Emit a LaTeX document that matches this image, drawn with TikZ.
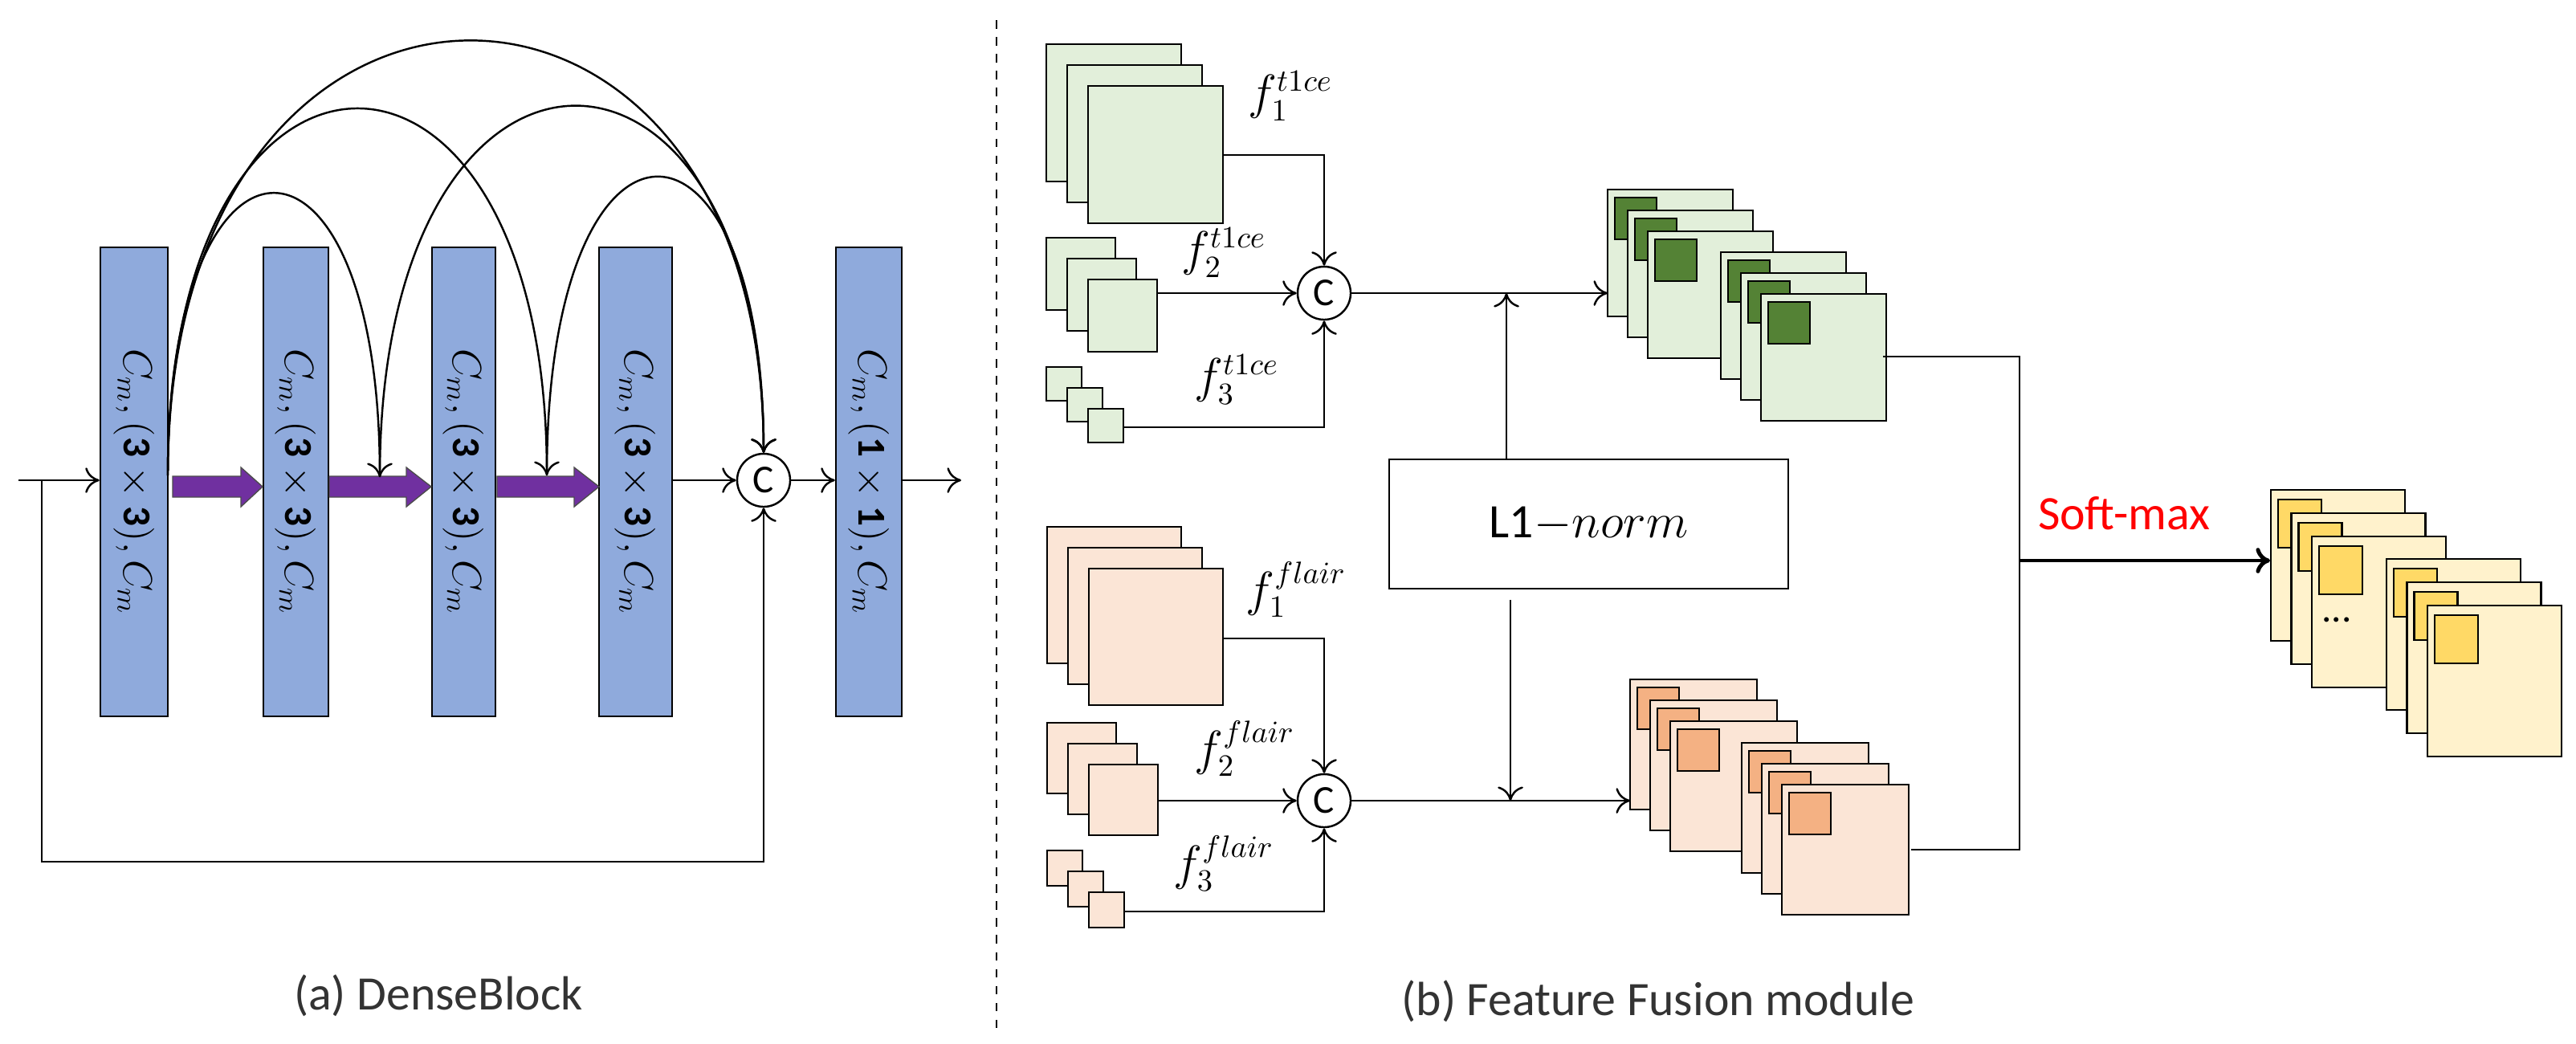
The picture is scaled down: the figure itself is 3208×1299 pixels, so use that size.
\documentclass[tikz,border=0pt]{standalone}
\usepackage{fontspec}
\setmainfont{Carlito}
\usepackage{amsmath}
\usetikzlibrary{arrows.meta}
\definecolor{barblue}{HTML}{8FAADC}
\definecolor{purp}{HTML}{7030A0}
\definecolor{gl}{HTML}{E2EFDA}
\definecolor{gd}{HTML}{548235}
\definecolor{ol}{HTML}{FBE5D6}
\definecolor{od}{HTML}{F4B183}
\definecolor{yl}{HTML}{FFF2CC}
\definecolor{yd}{HTML}{FFD966}
\begin{document}
\begin{tikzpicture}[x=0.01cm,y=-0.01cm,line width=0.7pt,
  >={To[length=5pt,width=9pt]},
  bar/.style={draw,fill=barblue,minimum width=#1*0.01cm,minimum height=5.84cm,inner sep=0},
  cat/.style={draw,circle,fill=white,minimum size=0.66cm,inner sep=0,font=\fontsize{14}{14}\selectfont},
  btxt/.style={rotate=-90,font=\fontsize{14}{14}\selectfont},
  pa/.style={fill=purp,draw=black!70,line width=0.4pt},
  fl/.style={font=\fontsize{16}{16}\selectfont},
  captxt/.style={font=\fontsize{17}{17}\selectfont,text=black!80}]
\useasboundingbox (0,0) rectangle (3208,1299);
% ---------------- (a) DenseBlock
\node[bar=84] (b1) at (167,600) {};
\node[bar=81] (b2) at (368.5,600) {};
\node[bar=79] (b3) at (577.5,600) {};
\node[bar=91] (b4) at (791.5,600) {};
\node[bar=82] (b5) at (1082,600) {};
\foreach \b in {b1,b2,b3,b4}{\node[btxt] at (\b) {$C_m,(\mathbf{3\times3}),C_m$};}
\node[btxt] at (b5) {$C_m,(\mathbf{1\times1}),C_m$};
\node[cat] (ca) at (951,598) {C};
% purple arrows
\draw[pa] (215,593)--(300,593)--(300,582)--(327,606)--(300,631)--(300,619)--(215,619)--cycle;
\draw[pa] (410,593)--(506,593)--(506,582)--(537,606)--(506,631)--(506,619)--(410,619)--cycle;
\draw[pa] (619,593)--(715,593)--(715,582)--(746,606)--(715,631)--(715,619)--(619,619)--cycle;
\coordinate (in) at (23,598);
\coordinate (lp) at (52,598);
\coordinate (lp2) at (52,1073);
\coordinate (lp3) at (951,1073);
\coordinate (p1) at (209,592);
\coordinate (q2) at (473,594);
\coordinate (q3) at (681,592);
\coordinate (out) at (1197,598);
\draw[->] (in) -- (b1.west |- in);
\draw[->] (lp) -- (lp2) -- (lp3) -- (ca.south);
\draw[->] (b4.east |- ca) -- (ca.west);
\draw[->] (ca.east) -- (b5.west |- ca);
\draw[->] (b5.east |- ca) -- (out);
\draw[->] (p1) .. controls (209,123) and (473,123) .. (q2);
\draw[->] (p1) .. controls (209,-17) and (681,-17) .. (q3);
\draw[->] (p1) .. controls (209,-125) and (951,-125) .. (ca.north);
\draw[->] (q2) .. controls (473,-17) and (951,-17) .. (ca.north);
\draw[->] (q3) .. controls (681,101) and (951,101) .. (ca.north);
\node[captxt] (capa) at (546,1240) {(a) DenseBlock};
% divider
\draw[dashed,line width=0.6pt] (1241,25) -- (1241,1280);
% ---------------- (b) feature fusion
\newcommand\mystack[6]{% x y w h fill name
  \foreach \k in {0,1,2}{\draw[fill=#5] ({#1+26*\k},{#2+26*\k}) rectangle ++(#3,#4);}
  \coordinate (#6) at ({#1+52+#3},{#2+52});}
% green inputs
\mystack{1303}{55}{168}{171}{gl}{g1}
\mystack{1303}{296}{86}{90}{gl}{g2}
\mystack{1303}{457}{44}{42}{gl}{g3}
\node[cat] (cg) at (1649,365) {C};
\draw[->] (1523,193) -- (1649,193) -- (cg.north);
\draw[->] (1441,365) -- (cg.west);
\draw[->] (1399,532) -- (1649,532) -- (cg.south);
\node[fl] at (1607,120) {$f_1^{t1ce}$};
\node[fl] at (1524,315) {$f_2^{t1ce}$};
\node[fl] at (1540,473) {$f_3^{t1ce}$};
% orange inputs
\mystack{1304}{656}{167}{170}{ol}{o1}
\mystack{1304}{900}{86}{88}{ol}{o2}
\mystack{1304}{1059}{44}{44}{ol}{o3}
\node[cat] (co) at (1649,997) {C};
\draw[->] (1523,795) -- (1649,795) -- (co.north);
\draw[->] (1441,997) -- (co.west);
\draw[->] (1399,1135) -- (1649,1135) -- (co.south);
\node[fl] at (1614,734) {$f_1^{flair}$};
\node[fl] at (1550,932) {$f_2^{flair}$};
\node[fl] at (1524,1075) {$f_3^{flair}$};
% L1 norm
\node[draw,minimum width=4.97cm,minimum height=1.61cm,font=\fontsize{17}{17}\selectfont] (l1) at (1978.5,652.5) {L1$-norm$};
\draw[->] (1876,572) -- (1876,365);
\draw[->] (1881,747) -- (1881,997);
% outputs
\newcommand\outstack[9]{% x y w h light dark gx gy innerh
  \foreach \g in {0,1}{\foreach \k in {0,1,2}{
    \draw[fill=#5] ({#1+\g*#7+25*\k},{#2+\g*#8+26*\k}) rectangle ++(#3,#4);
    \draw[fill=#6] ({#1+\g*#7+25*\k+9},{#2+\g*#8+26*\k+10}) rectangle ++(52,#9);}}}
\draw[->] (cg.east) -- (2002,365);
\draw[->] (co.east) -- (2030,997);
\outstack{2002}{236}{156}{158}{gl}{gd}{141}{78}{52}
\outstack{2030}{846}{158}{162}{ol}{od}{139}{79}{52}
\draw (2345,444) -- (2515,444) -- (2515,1058) -- (2380,1058);
% yellow result
\foreach \g in {0,1}{\foreach \k in {0,1,2}{
  \draw[fill=yl] ({2828+\g*144+25.5*\k},{610+\g*86+29*\k}) rectangle ++(167,188);
  \draw[fill=yd] ({2828+\g*144+25.5*\k+9},{610+\g*86+29*\k+12}) rectangle ++(54,60);}}
\node[font=\fontsize{14}{14}\selectfont] at (2910,772) {...};
\coordinate (sm) at (2515,698);
\draw[->,line width=1.4pt] (sm) -- (2827,698);
\node[font=\fontsize{17}{17}\selectfont,text=red] (smx) at (2645,639) {Soft-max};
\node[captxt] (capb) at (2065,1247) {(b) Feature Fusion module};
\end{tikzpicture}
\end{document}
